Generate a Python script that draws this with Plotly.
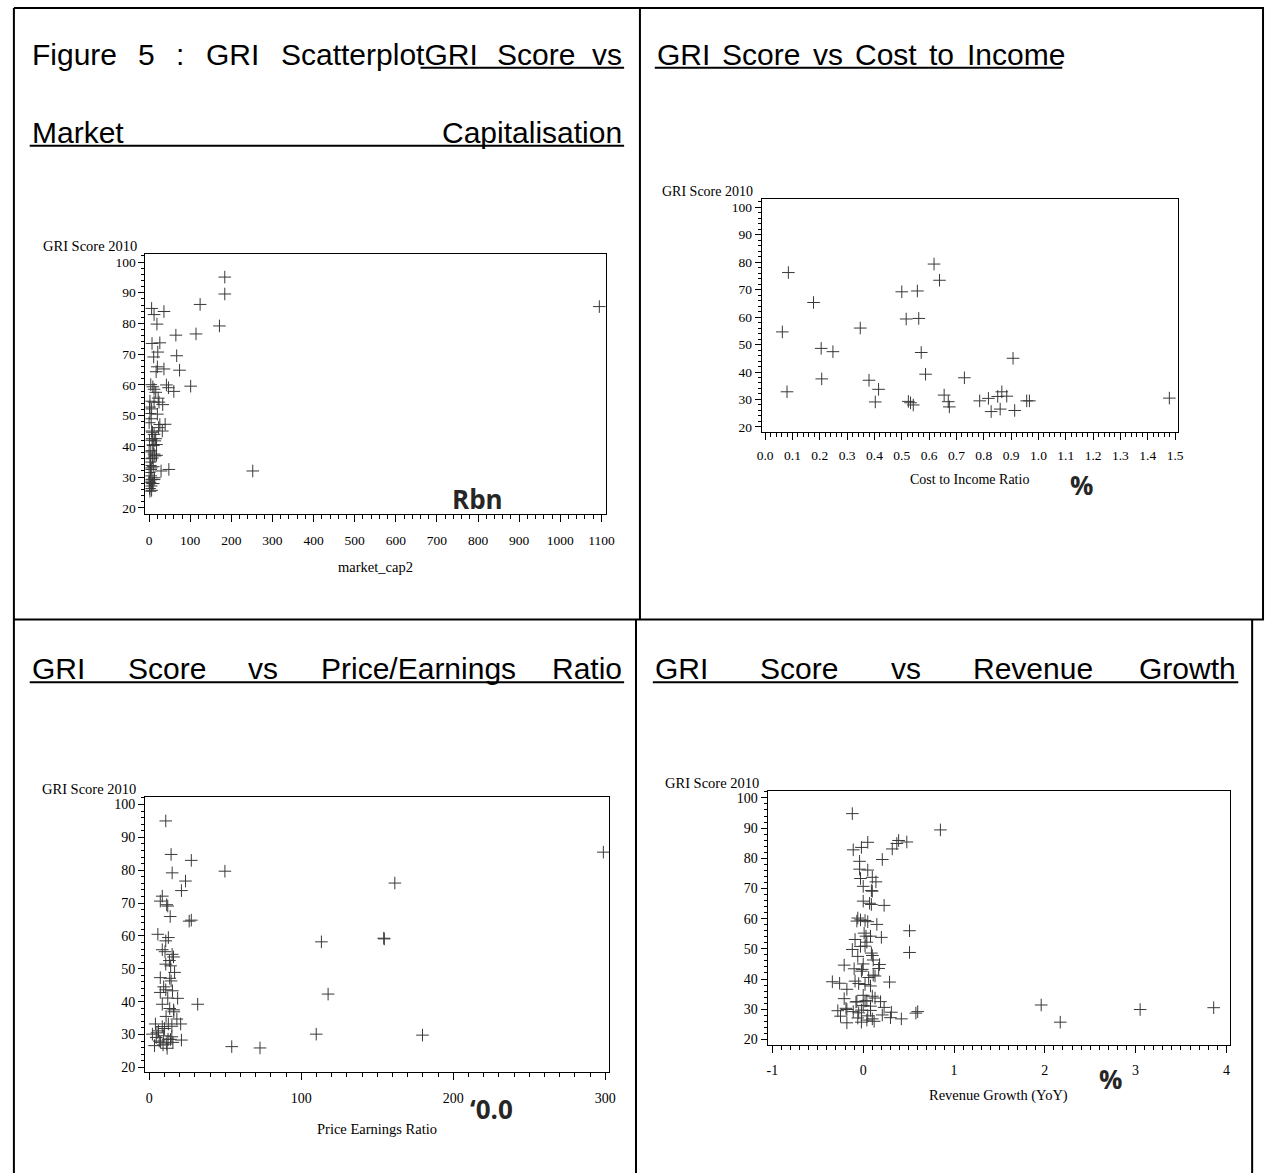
import plotly.graph_objects as go

W, H = 1274, 1176

# ---------------- data ----------------
# Panel 1: GRI Score vs Market Capitalisation (Rbn)
mcap_x = [184, 184, 124, 1095, 6, 36, 12, 19, 171, 65, 114, 7, 26, 21, 11, 67, 20, 17, 36, 74,
          4, 42, 47, 101, 60, 12, 9, 16, 2, 12, 22, 33, 6, 20, 2, 5, 0, 26, 39, 23,
          32, 6, 12, 7, 14, 18, 10, 4, 12, 18, 8, 2, 10, 5, 29, 48, 252, 0, 4, 7,
          2, 10, 5, 1, 6, 3, 12, 8, 16, 1, 24, 4, 0, 8, 2, 14, 4, 9, 1, 13, 3, 0]
mcap_y = [95.1, 89.6, 86.2, 85.5, 84.9, 83.9, 82.9, 79.8, 79.2, 76.2, 76.6, 73.5, 73.7, 70.7, 69.1,
          69.5, 65.9, 64.3, 65.2, 64.8, 60.1, 60.0, 59.1, 59.6, 57.9, 58.6, 59.4, 57.6, 54.7, 54.4,
          55.7, 53.6, 52.2, 50.5, 50.7, 49.0, 47.7, 47.1, 47.2, 46.1, 45.0, 45.0, 43.9, 42.5, 41.8,
          40.6, 40.3, 38.6, 37.5, 37.1, 36.2, 34.9, 33.4, 33.0, 32.0, 32.5, 32.0, 31.5, 30.4, 29.3,
          28.3, 27.9, 27.1, 26.3, 25.7, 29.1, 29.2, 44.6, 42.5, 52.8, 54.4, 36.0, 28.4, 27.9, 25.4,
          36.9, 32.5, 40.5, 42.0, 29.8, 33.8, 38.2]

# Panel 2: GRI Score vs Cost to Income Ratio
cti_x = [0.085, 0.177, 0.063, 0.080, 0.205, 0.248, 0.207, 0.348, 0.380, 0.415, 0.403, 0.500, 0.557,
         0.516, 0.562, 0.571, 0.587, 0.618, 0.638, 0.524, 0.532, 0.542, 0.655, 0.670, 0.674, 0.729,
         0.785, 0.817, 0.827, 0.851, 0.866, 0.884, 0.860, 0.913, 0.907, 0.957, 0.967, 1.479]
cti_y = [76.2, 65.3, 54.6, 32.8, 48.6, 47.4, 37.5, 56.0, 37.0, 33.7, 29.1, 69.2, 69.5, 59.3, 59.5,
         47.1, 39.2, 79.3, 73.4, 29.3, 28.8, 28.0, 31.6, 29.2, 27.3, 37.9, 29.5, 30.4, 25.6, 31.1,
         32.8, 31.2, 26.5, 26.0, 45.0, 29.5, 29.5, 30.5]

# Panel 3: GRI Score vs Price Earnings Ratio
pe_x = [10.8, 14.3, 15.0, 27.6, 49.7, 23.8, 21.1, 161.5, 298.7, 8.5, 7.2, 11.4, 12.1, 13.7, 26.2,
        27.6, 5.6, 12.5, 10.8, 154.2, 154.6, 113.2, 8.5, 10.3, 15.0, 15.9, 13.2, 10.8, 14.0, 16.6,
        7.2, 13.4, 14.3, 9.4, 7.2, 10.8, 15.2, 12.1, 18.6, 8.5, 31.8, 117.6, 13.4, 16.1, 11.0,
        18.1, 4.0, 12.5, 20.6, 14.8, 8.5, 6.0, 2.0, 4.5, 9.4, 12.3, 14.8, 21.1, 3.4, 7.4,
        11.4, 13.9, 11.7, 109.8, 179.7, 54.2, 72.8, 16.0, 10.0, 6.5, 15.5, 5.0, 9.0]
pe_y = [95.0, 84.8, 79.2, 83.0, 79.7, 76.7, 73.8, 76.1, 85.5, 72.1, 70.6, 69.5, 69.1, 65.9, 64.5,
        64.8, 60.5, 59.5, 58.5, 59.3, 59.1, 58.2, 55.8, 55.2, 54.4, 53.6, 52.5, 51.4, 50.9, 48.9,
        47.3, 47.1, 46.3, 44.5, 42.8, 43.6, 43.3, 41.1, 41.0, 39.2, 39.2, 42.3, 37.9, 36.9, 35.5,
        34.7, 33.2, 33.2, 33.2, 32.5, 32.4, 31.1, 30.1, 29.1, 29.6, 28.6, 29.3, 28.3, 26.6, 27.6,
        27.1, 28.5, 25.8, 30.1, 29.8, 26.3, 25.9, 37.5, 31.8, 28.0, 27.6, 30.5, 26.8]

# Panel 4: GRI Score vs Revenue Growth (YoY)
rg_x = [-0.12, 0.85, 0.05, -0.02, -0.11, 0.39, 0.48, 0.37, 0.32, 0.21, -0.04, -0.04, 0.05, -0.03, 0.10,
        0.14, 0.00, 0.09, 0.10, 0.00, 0.07, 0.09, 0.23, -0.06, -0.03, 0.02, 0.05, -0.07, 0.15, 0.51,
        0.01, 0.03, 0.08, 0.20, -0.09, 0.04, -0.03, -0.12, 0.51, 0.09, 0.10, -0.06, 0.11, 0.18, -0.21,
        0.00, 0.17, -0.10, -0.02, 0.11, 0.06, -0.34, -0.26, -0.09, -0.05, 0.08, 0.29, -0.18, -0.21, 0.00,
        0.10, 0.13, -0.08, 0.04, 0.19, 1.96, -0.28, -0.18, -0.11, -0.02, 0.08, 0.23, 0.31, 0.58, 0.60,
        3.05, 3.86, -0.25, -0.18, -0.06, 0.04, 0.12, 0.42, 2.17, -0.02, 0.21, 0.30,
        0.02, 0.08, -0.19, -0.05, 0.02, -0.01, 0.02, 0.13, -0.07, 0.00, 0.05, 0.10]
rg_y = [94.8, 89.4, 85.3, 83.6, 82.8, 85.9, 85.4, 84.9, 83.1, 79.6, 79.0, 76.4, 76.1, 73.3, 73.7,
        72.2, 70.7, 69.3, 69.1, 65.8, 65.1, 64.7, 64.4, 60.2, 59.6, 59.4, 59.0, 59.2, 58.1, 56.0,
        55.2, 54.2, 54.2, 53.8, 53.1, 52.2, 50.8, 49.8, 48.8, 48.6, 47.8, 47.5, 46.3, 44.8, 44.6,
        45.0, 43.5, 43.4, 42.6, 41.3, 40.5, 39.1, 38.6, 39.3, 38.5, 37.7, 39.0, 36.6, 33.5, 34.6,
        34.3, 33.7, 32.4, 32.8, 32.5, 31.4, 29.5, 29.9, 29.2, 29.7, 29.6, 30.6, 29.0, 28.7, 29.2,
        29.9, 30.5, 27.7, 25.5, 27.1, 26.4, 26.0, 26.8, 25.7, 25.7, 28.1, 27.2,
        32.7, 31.0, 30.3, 28.8, 38.2, 43.2, 50.9, 41.0, 32.5, 31.2, 27.8, 26.8]

# Tick labels
rg_tickvals = [-1, 0, 1, 2, 3, 4]
rg_ticktext = ["-1", "0", "1", "2", "3", "4"]

y_title = "GRI Score 2010"
x_titles = ["market_cap2", "Cost to Income Ratio", "Price Earnings Ratio", "Revenue Growth (YoY)"]
unit_notes = ["Rbn", "%", "\u20180.0", "%"]

# ---------------- helpers ----------------
def fx(p):
    return p / W


def fy(p):
    return 1 - p / H


SERIF = "Liberation Serif"
SANS = "Liberation Sans"
MARK = "#383838"

fig = go.Figure()

datasets = [(mcap_x, mcap_y), (cti_x, cti_y), (pe_x, pe_y), (rg_x, rg_y)]
for i, (xs, ys) in enumerate(datasets):
    sfx = "" if i == 0 else str(i + 1)
    fig.add_trace(go.Scatter(
        x=xs, y=ys, mode="markers", xaxis="x" + sfx, yaxis="y" + sfx,
        marker=dict(symbol="cross-thin", size=9, color=MARK, line=dict(width=1, color=MARK)),
        showlegend=False, hoverinfo="x+y"))

# panel geometry in pixels: (left, top, right, bottom)
boxes = [(142, 255, 608, 515), (765, 200, 1186, 433), (141.5, 799, 611, 1075), (771, 793, 1239, 1047.5)]
xranges = [[-9, 1112], [-0.013, 1.5105], [-2.9, 302.6], [-1.054, 4.044]]
yranges = [[18.1, 102.5], [18.2, 102.8], [18.5, 102.3], [18.2, 102.3]]
tick_sizes = [13.5, 13.5, 14, 14]
title_sizes = [14.5, 14, 14.5, 14.5]
x_label_standoff = [7, 4, 6, 5]
title_offsets = [53, 48, 57, 51]

xaxis_specific = [
    dict(tickmode="linear", tick0=0, dtick=100, minor=dict(tick0=0, dtick=20)),
    dict(tickmode="linear", tick0=0, dtick=0.1, tickformat=".1f", minor=dict(tick0=0, dtick=0.02)),
    dict(tickmode="linear", tick0=0, dtick=100, minor=dict(tick0=0, dtick=10)),
    dict(tickmode="array", tickvals=rg_tickvals, ticktext=rg_ticktext, minor=dict(tick0=-1, dtick=0.1)),
]

layout = dict(
    width=W, height=H, autosize=False,
    margin=dict(l=0, r=0, t=0, b=0, pad=0),
    paper_bgcolor="white", plot_bgcolor="white",
    showlegend=False,
)

annotations = []
shapes = []

for i in range(4):
    l, t, r, b = boxes[i]
    sfx = "" if i == 0 else str(i + 1)
    spec = xaxis_specific[i]
    minor = dict(ticks="outside", ticklen=4, tickcolor="black", tickwidth=1, showgrid=False)
    minor.update(spec["minor"])
    xa = dict(
        domain=[fx(l), fx(r)], range=xranges[i], anchor="y" + sfx,
        showline=True, linecolor="black", linewidth=1, mirror=True,
        ticks="outside", ticklen=7, tickcolor="black", tickwidth=1,
        showgrid=False, zeroline=False,
        tickfont=dict(family=SERIF, size=tick_sizes[i], color="black"),
        ticklabelstandoff=x_label_standoff[i],
        minor=minor,
    )
    for k, v in spec.items():
        if k != "minor":
            xa[k] = v
    ya = dict(
        domain=[fy(b), fy(t)], range=yranges[i], anchor="x" + sfx,
        showline=True, linecolor="black", linewidth=1, mirror=True,
        ticks="outside", ticklen=6, tickcolor="black", tickwidth=1,
        tickmode="linear", tick0=0, dtick=10,
        showgrid=False, zeroline=False,
        tickfont=dict(family=SERIF, size=tick_sizes[i], color="black"),
        minor=dict(ticks="outside", ticklen=3, tickcolor="black", tickwidth=1, tick0=0, dtick=2, showgrid=False),
    )
    layout["xaxis" + sfx] = xa
    layout["yaxis" + sfx] = ya

    # y title on top-left of the frame
    annotations.append(dict(
        text=y_title, xref="paper", yref="paper", x=fx(l - 7), y=fy(t - 8),
        xanchor="right", yanchor="middle", showarrow=False,
        font=dict(family=SERIF, size=title_sizes[i], color="black")))
    # x title under the axis
    annotations.append(dict(
        text=x_titles[i], xref="paper", yref="paper", x=fx((l + r) / 2), y=fy(b + title_offsets[i]),
        xanchor="center", yanchor="middle", showarrow=False,
        font=dict(family=SERIF, size=title_sizes[i], color="black")))

# bold unit notes pasted onto the charts
note_pos = [(478, 500), (1088, 486), (492, 1112), (1118, 1082)]
for txt, (nx, ny) in zip(unit_notes, note_pos):
    annotations.append(dict(
        text=txt, xref="paper", yref="paper", x=fx(nx), y=fy(ny),
        xanchor="center", yanchor="middle", showarrow=False,
        font=dict(family="Open Sans", size=26, color="#262626", weight="bold")))

# ---------------- table headings ----------------
HFONT = dict(family=SANS, size=30, color="black")


def word(txt, x, y, anchor="left"):
    annotations.append(dict(
        text=txt, xref="paper", yref="paper", x=fx(x), y=fy(y),
        xanchor=anchor, yanchor="middle", showarrow=False, font=HFONT))


def uline(x0, x1, y):
    shapes.append(dict(type="line", xref="paper", yref="paper",
                       x0=fx(x0), x1=fx(x1), y0=fy(y), y1=fy(y),
                       line=dict(color="black", width=2)))


# top-left cell (justified line, then "Market ... Capitalisation")
row1_y = 55
for txt, x in [("Figure", 25), ("5", 132.1), (":", 170.9), ("GRI", 201.3), ("ScatterplotGRI", 276.7), ("Score", 495.5)]:
    word(txt, x, row1_y)
word("vs", 626, row1_y, "right")
uline(420.1, 626, 68)
word("Market", 25, 133)
word("Capitalisation", 626, 133, "right")
uline(25, 626, 146)

# top-right cell
for txt, x in [("GRI", 657), ("Score", 723.3), ("vs", 814.7), ("Cost", 857.7), ("to", 932.4), ("Income", 970.4)]:
    word(txt, x, row1_y)
uline(657, 1069, 68)

# bottom-left cell
row2_y = 670
for txt, x in [("GRI", 25), ("Score", 121.9), ("vs", 243.8), ("Price/Earnings", 317.4)]:
    word(txt, x, row2_y)
word("Ratio", 626, row2_y, "right")
uline(25, 626, 684)

# bottom-right cell
for txt, x in [("GRI", 655), ("Score", 761.7), ("vs", 893.5), ("Revenue", 976.9)]:
    word(txt, x, row2_y)
word("Growth", 1247, row2_y, "right")
uline(655, 1247, 684)

# ---------------- table borders ----------------
def border(x0, y0, x1, y1):
    shapes.append(dict(type="line", xref="paper", yref="paper",
                       x0=fx(x0), x1=fx(x1), y0=fy(y0), y1=fy(y1),
                       line=dict(color="black", width=2)))


border(9, 8, 1273, 8)          # top
border(9, 8, 9, 1176)          # left
border(642, 8, 642, 621)       # top middle
border(1272, 8, 1272, 621)     # top right
border(9, 621, 1273, 621)      # middle horizontal
border(638, 621, 638, 1176)    # bottom middle
border(1261, 621, 1261, 1176)  # bottom right

layout["annotations"] = annotations
layout["shapes"] = shapes
fig.update_layout(**layout)

fig.write_html("out.html", config={"displayModeBar": False},
               post_script="document.body.style.margin='0';document.body.style.overflow='hidden';")
